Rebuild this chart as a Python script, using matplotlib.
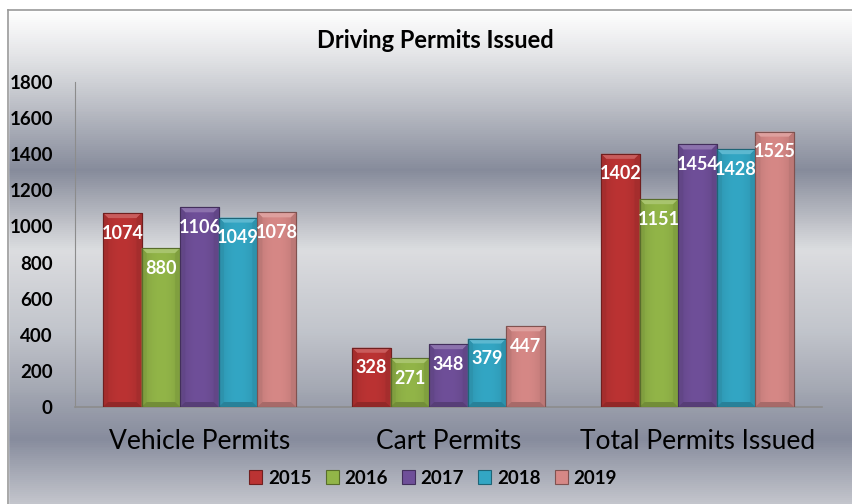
import numpy as np
import matplotlib
matplotlib.use("Agg")
import matplotlib.pyplot as plt
from matplotlib.patches import Rectangle, Polygon
from matplotlib.colors import LinearSegmentedColormap, to_rgb

plt.rcParams['font.family'] = ['Lato', 'DejaVu Sans']

# ---- data ----
title = "Driving Permits Issued"
categories = ["Vehicle Permits", "Cart Permits", "Total Permits Issued"]
years = ["2015", "2016", "2017", "2018", "2019"]
values_2015 = [1074, 328, 1402]
values_2016 = [880, 271, 1151]
values_2017 = [1106, 348, 1454]
values_2018 = [1049, 379, 1428]
values_2019 = [1078, 447, 1525]
series = [values_2015, values_2016, values_2017, values_2018, values_2019]
colors = ["#bb3333", "#92b548", "#6f4f99", "#33a6c4", "#d68886"]
yticks = [0, 200, 400, 600, 800, 1000, 1200, 1400, 1600, 1800]

W, H = 852, 504
fig = plt.figure(figsize=(W / 100, H / 100), dpi=100)

# ---- background gradient ----
bg = fig.add_axes([0, 0, 1, 1], zorder=-10)
bg.set_axis_off()
stops = [(0.0, "#ffffff"), (10 / H, "#ffffff"), (60 / H, "#e0e1e4"), (110 / H, "#b8bbc3"),
         (170 / H, "#868b9b"), (200 / H, "#a8abb5"), (250 / H, "#dcdde0"),
         (330 / H, "#c2c5cc"), (390 / H, "#a4a8b3"), (440 / H, "#878c9d"),
         (1.0, "#c3c5cc")]
cmap = LinearSegmentedColormap.from_list("bgc", stops)
grad = np.linspace(0, 1, 504).reshape(-1, 1)
bg.imshow(grad, aspect="auto", cmap=cmap, extent=[0, 1, 1, 0], vmin=0, vmax=1)
bg.set_xlim(0, 1)
bg.set_ylim(1, 0)
bg.add_patch(Rectangle((0, 0), 1, 10 / H, color="white", zorder=2))
bg.add_patch(Rectangle((0, 0), 8 / W, 1, color="white", zorder=2))
bg.plot([8 / W, 1], [10 / H, 10 / H], color="#9a9a9a", lw=1.2, zorder=3)
bg.plot([8 / W, 8 / W], [10 / H, 1], color="#9a9a9a", lw=1.2, zorder=3)

# ---- main axes ----
left, right, top, bottom = 75, 822, 82, 407
ax = fig.add_axes([left / W, 1 - bottom / H, (right - left) / W, (bottom - top) / H])
ax.patch.set_alpha(0)
ax.set_xlim(-0.5, len(categories) - 0.5)
ax.set_ylim(0, 1800)
for s in ["top", "right"]:
    ax.spines[s].set_visible(False)
ax.spines["left"].set_color("#8c8c8c")
ax.spines["bottom"].set_color("#8c8c8c")
ax.spines["bottom"].set_linewidth(1.2)
ax.set_yticks(yticks)
ax.set_yticklabels([str(t) for t in yticks], fontsize=13.5, fontweight="bold")
ax.tick_params(axis="y", length=0, pad=16)
ax.set_xticks(range(len(categories)))
ax.set_xticklabels(categories, fontsize=19)
ax.tick_params(axis="x", length=0, pad=16)

bw = 0.155
n = len(series)
xpos = np.arange(len(categories))
px_x = (len(categories)) / (right - left)
px_y = 1800 / (bottom - top)
bev_x = 5 * px_x
bev_y = 5 * px_y


def shade(c, f):
    r = np.array(to_rgb(c))
    if f >= 1:
        return tuple(r + (1 - r) * (f - 1))
    return tuple(r * f)


for i, (vals, col) in enumerate(zip(series, colors)):
    xs = xpos + (i - (n - 1) / 2) * bw
    bars = ax.bar(xs, vals, width=bw, color=col, edgecolor=shade(col, 0.6),
                  linewidth=0.8, zorder=3, label=years[i])
    for rect, v in zip(bars, vals):
        x0 = rect.get_x()
        x1 = x0 + rect.get_width()
        g = np.linspace(0, 1, 50)
        prof = 1 - 0.12 * (np.abs(g - 0.5) * 2) ** 2
        img = np.array([[shade(col, p) for p in prof]])
        im = ax.imshow(img, extent=[x0, x1, 0, v], aspect="auto", zorder=3.2,
                       interpolation="bilinear")
        im.set_clip_path(rect)
        top_poly = Polygon([(x0, v), (x1, v), (x1 - bev_x, v - bev_y), (x0 + bev_x, v - bev_y)],
                           closed=True, color=shade(col, 1.2), lw=0, zorder=3.4)
        left_poly = Polygon([(x0, v), (x0 + bev_x, v - bev_y), (x0 + bev_x, bev_y), (x0, 0)],
                            closed=True, color=shade(col, 0.88), lw=0, zorder=3.4)
        right_poly = Polygon([(x1, v), (x1 - bev_x, v - bev_y), (x1 - bev_x, bev_y), (x1, 0)],
                             closed=True, color=shade(col, 0.88), lw=0, zorder=3.4)
        bot_poly = Polygon([(x0, 0), (x1, 0), (x1 - bev_x, bev_y), (x0 + bev_x, bev_y)],
                           closed=True, color=shade(col, 0.78), lw=0, zorder=3.4)
        for p in (top_poly, left_poly, right_poly, bot_poly):
            ax.add_patch(p)
        ax.add_patch(Rectangle((x0, 0), x1 - x0, v, fill=False,
                               edgecolor=shade(col, 0.6), lw=0.8, zorder=3.5))
        ax.annotate(str(v), (rect.get_x() + rect.get_width() / 2, v),
                    xytext=(0, -20), textcoords="offset pixels",
                    ha="center", va="center", color="white",
                    fontsize=13, fontweight="bold", zorder=5)

# title
fig.text(435 / W, 1 - 41 / H, title, ha="center", va="center",
         fontsize=17, fontweight="bold")

# legend
handles, labels = ax.get_legend_handles_labels()
leg = fig.legend(handles, labels, loc="center", bbox_to_anchor=(433 / W, 1 - 478 / H),
                 ncol=5, frameon=False, prop={"weight": "bold", "size": 13.5},
                 handlelength=0.7, handleheight=0.7, handletextpad=0.3,
                 columnspacing=0.75)

fig.savefig("out.png", dpi=100)
